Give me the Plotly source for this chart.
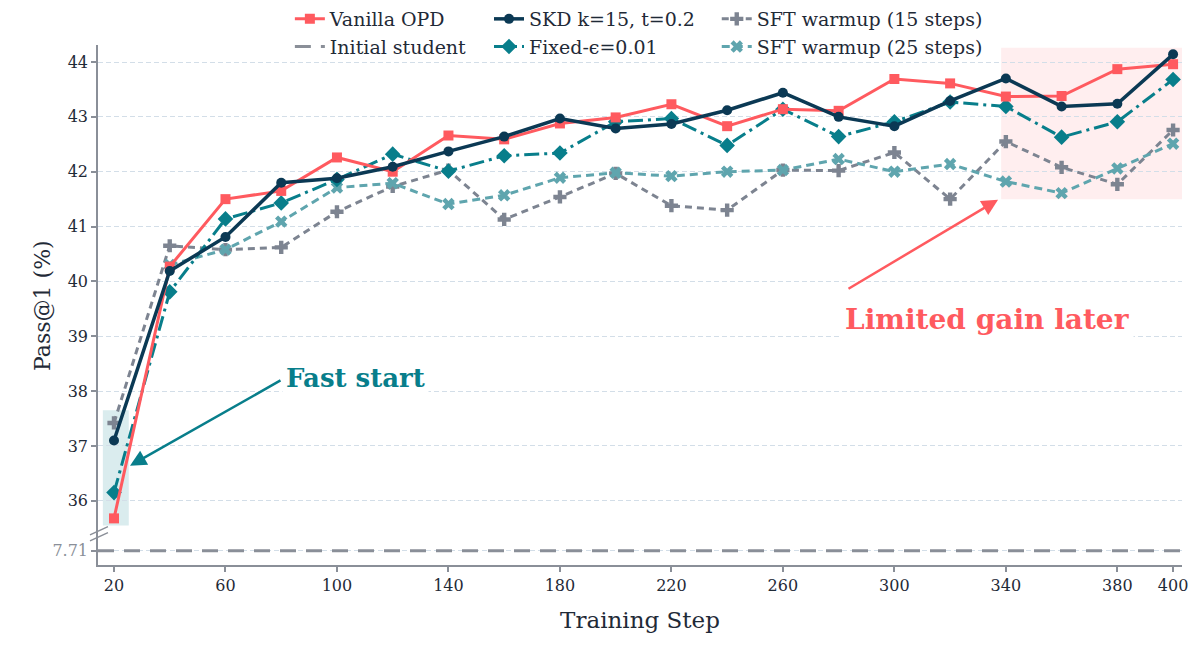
import plotly.graph_objects as go

steps = [20, 40, 60, 80, 100, 120, 140, 160, 180, 200, 220, 240, 260, 280, 300, 320, 340, 360, 380, 400]
vanilla = [35.68, 40.27, 41.50, 41.65, 42.26, 42.00, 42.66, 42.59, 42.88, 42.99, 43.23, 42.83, 43.14, 43.11, 43.69, 43.61, 43.37, 43.38, 43.87, 43.96]
skd = [37.10, 40.19, 40.81, 41.80, 41.88, 42.09, 42.37, 42.64, 42.97, 42.79, 42.87, 43.12, 43.44, 43.00, 42.83, 43.29, 43.70, 43.19, 43.24, 44.14]
fixed = [36.15, 39.81, 41.14, 41.43, 41.86, 42.32, 42.01, 42.29, 42.34, 42.91, 42.97, 42.48, 43.14, 42.64, 42.91, 43.27, 43.19, 42.63, 42.91, 43.68]
sft15 = [37.42, 40.65, 40.58, 40.62, 41.27, 41.73, 42.03, 41.13, 41.54, 41.97, 41.38, 41.30, 42.03, 42.02, 42.35, 41.50, 42.55, 42.08, 41.77, 42.76]
sft25 = [None, 40.30, 40.58, 41.09, 41.71, 41.79, 41.41, 41.57, 41.89, 41.98, 41.92, 42.00, 42.03, 42.23, 42.00, 42.14, 41.82, 41.61, 42.06, 42.51]
initial_student = 7.71

x_ticks = [20, 60, 100, 140, 180, 220, 260, 300, 340, 380, 400]
y_ticks = [36, 37, 38, 39, 40, 41, 42, 43, 44]

# broken-axis display position for the initial student baseline
BREAK_POS = 35.09
X_RANGE = [14.26, 403.2]
Y_RANGE = [34.83, 44.31]

RED = "#FF5A5F"
NAVY = "#0B3954"
TEAL = "#087E8B"
GRAY = "#7D8491"
LTEAL = "#5FA5AE"
BASE_GRAY = "#8A8F98"
TXT = "#1F2A37"
FONT = "DejaVu Serif"

fig = go.Figure()

fig.add_trace(go.Scatter(
    x=[X_RANGE[0], X_RANGE[1]], y=[BREAK_POS, BREAK_POS], mode="lines",
    name="Initial student", line=dict(color=BASE_GRAY, width=3, dash="16px,10px"),
    legend="legend", legendrank=2, hoverinfo="skip"))
fig.add_trace(go.Scatter(
    x=steps, y=sft15, mode="lines+markers", name="SFT warmup (15 steps)",
    line=dict(color=GRAY, width=3, dash="7px,5px"),
    marker=dict(symbol="cross", size=11, color=GRAY),
    legend="legend3", legendrank=5))
fig.add_trace(go.Scatter(
    x=steps, y=sft25, mode="lines+markers", name="SFT warmup (25 steps)",
    line=dict(color=LTEAL, width=3, dash="8px,5px"),
    marker=dict(symbol="x", size=11, color=LTEAL),
    legend="legend3", legendrank=6))
fig.add_trace(go.Scatter(
    x=steps, y=fixed, mode="lines+markers", name="Fixed-ϵ=0.01",
    line=dict(color=TEAL, width=3, dash="15px,5px,3px,5px"),
    marker=dict(symbol="diamond", size=12, color=TEAL),
    legend="legend2", legendrank=4))
fig.add_trace(go.Scatter(
    x=steps, y=vanilla, mode="lines+markers", name="Vanilla OPD",
    line=dict(color=RED, width=3),
    marker=dict(symbol="square", size=10, color=RED),
    legend="legend", legendrank=1))
fig.add_trace(go.Scatter(
    x=steps, y=skd, mode="lines+markers", name="SKD k=15, t=0.2",
    line=dict(color=NAVY, width=3.5),
    marker=dict(symbol="circle", size=10, color=NAVY),
    legend="legend2", legendrank=3))

# shaded regions
fig.add_shape(type="rect", xref="x", yref="y", x0=16, x1=25.3, y0=35.55, y1=37.65,
              fillcolor="rgba(8,126,139,0.15)", line_width=0, layer="below")
fig.add_shape(type="rect", xref="x", yref="y", x0=338.3, x1=X_RANGE[1], y0=41.5, y1=44.26,
              fillcolor="rgba(255,90,95,0.10)", line_width=0, layer="below")

# axis break marks
for off in [0.0, 0.11]:
    fig.add_shape(type="line", xref="paper", yref="y", x0=-0.0074, x1=0.0092,
                  y0=35.38 - off, y1=35.53 - off, line=dict(color=BASE_GRAY, width=1.5))

# annotations
fig.add_annotation(x=25.74, y=36.64, ax=80.28, ay=38.21, axref="x", ayref="y", xref="x", yref="y",
                   text="", showarrow=True, arrowhead=2, arrowsize=1.3, arrowwidth=2.5, arrowcolor=TEAL)
fig.add_annotation(x=80.4, y=38.24, xref="x", yref="y", xanchor="left", yanchor="middle",
                   text="<b>Fast start</b>", showarrow=False, bgcolor="white", borderpad=3,
                   font=dict(family=FONT, size=26, color=TEAL))
fig.add_annotation(x=337.2, y=41.49, ax=283.0, ay=39.85, axref="x", ayref="y", xref="x", yref="y",
                   text="", showarrow=True, arrowhead=2, arrowsize=1.3, arrowwidth=2.5, arrowcolor=RED)
fig.add_annotation(x=280.9, y=39.31, xref="x", yref="y", xanchor="left", yanchor="middle",
                   text="<b>Limited gain later</b>", showarrow=False, bgcolor="white", borderpad=3,
                   font=dict(family=FONT, size=28, color=RED))

# y-axis title
fig.add_annotation(x=-0.0517, y=0.5, xref="x domain", yref="y domain", xanchor="center", yanchor="middle",
                   text="Pass@1 (%)", textangle=-90, showarrow=False,
                   font=dict(family=FONT, size=22, color=TXT))

ytickvals = [BREAK_POS] + y_ticks
yticktext = [f"<span style='color:{BASE_GRAY}'>{initial_student}</span>"] + [str(v) for v in y_ticks]

PAPER_H = 658 - 93
legend_common = dict(orientation="v", xanchor="left", yanchor="top", y=1.0,
                     bgcolor="rgba(0,0,0,0)", tracegroupgap=1,
                     font=dict(family=FONT, size=19, color=TXT))

fig.update_layout(
    width=1200, height=658,
    margin=dict(l=98, r=18, t=0, b=93),
    plot_bgcolor="white", paper_bgcolor="white",
    font=dict(family=FONT, color=TXT, size=16),
    legend=dict(x=0.177, **legend_common),
    legend2=dict(x=0.3607, **legend_common),
    legend3=dict(x=0.5708, **legend_common),
    xaxis=dict(range=X_RANGE, tickvals=x_ticks, showgrid=False, zeroline=False,
               showline=True, linecolor=BASE_GRAY, linewidth=1.5,
               ticks="outside", ticklen=5, tickcolor=BASE_GRAY, tickwidth=1.5,
               tickfont=dict(family=FONT, size=16, color=TXT),
               title=dict(text="Training Step", font=dict(family=FONT, size=23, color=TXT), standoff=18)),
    yaxis=dict(range=Y_RANGE, domain=[0, (PAPER_H - 45) / PAPER_H],
               tickvals=ytickvals, ticktext=yticktext, showgrid=True,
               gridcolor="#D3DEE8", griddash="5px,3px", gridwidth=1, zeroline=False,
               showline=True, linecolor=BASE_GRAY, linewidth=1.5,
               ticks="outside", ticklen=5, tickcolor=BASE_GRAY, tickwidth=1.5,
               tickfont=dict(family=FONT, size=16, color=TXT)),
)

fig.write_html("out.html")
